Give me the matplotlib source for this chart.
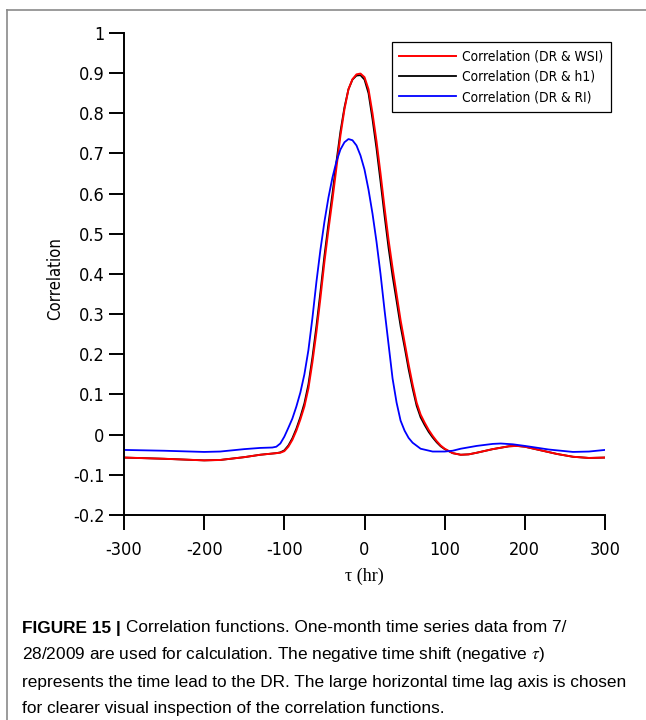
import os
import numpy as np
import matplotlib
matplotlib.use("Agg")
import matplotlib.pyplot as plt
from matplotlib.lines import Line2D
from matplotlib import font_manager as fm
from matplotlib.font_manager import FontProperties

plt.rcParams['mathtext.fontset'] = 'stix'

############################ data ############################
tau_red = [-300, -250, -200, -180, -150, -130, -115, -110, -105, -100, -95, -90, -85,
           -80, -75, -70, -65, -60, -55, -50, -45, -40, -35, -30, -25, -20, -15, -10,
           -5, 0, 5, 10, 15, 20, 25, 30, 35, 40, 45, 50, 55, 60, 65, 70, 75, 80, 85,
           90, 95, 100, 110, 120, 130, 140, 160, 180, 190, 200, 220, 240, 260, 280, 300]
corr_wsi = [-0.057, -0.060, -0.064, -0.063, -0.056, -0.050, -0.047, -0.046, -0.045,
            -0.041, -0.030, -0.013, 0.010, 0.038, 0.070, 0.115, 0.180, 0.255, 0.340,
            0.430, 0.510, 0.585, 0.665, 0.745, 0.810, 0.860, 0.885, 0.897, 0.899,
            0.890, 0.860, 0.800, 0.730, 0.650, 0.565, 0.485, 0.415, 0.350, 0.285,
            0.230, 0.175, 0.125, 0.080, 0.050, 0.030, 0.012, -0.003, -0.016, -0.027,
            -0.035, -0.046, -0.050, -0.049, -0.045, -0.036, -0.029, -0.028, -0.030,
            -0.039, -0.048, -0.055, -0.058, -0.057]
corr_h1 = [-0.057, -0.060, -0.064, -0.063, -0.056, -0.050, -0.047, -0.046, -0.044,
           -0.039, -0.027, -0.009, 0.015, 0.044, 0.078, 0.125, 0.192, 0.270, 0.355,
           0.445, 0.525, 0.600, 0.680, 0.755, 0.815, 0.860, 0.884, 0.894, 0.895,
           0.884, 0.850, 0.785, 0.712, 0.630, 0.545, 0.465, 0.395, 0.333, 0.270,
           0.218, 0.163, 0.115, 0.072, 0.043, 0.024, 0.007, -0.007, -0.019, -0.029,
           -0.036, -0.046, -0.050, -0.049, -0.045, -0.036, -0.029, -0.028, -0.030,
           -0.039, -0.048, -0.055, -0.058, -0.057]
tau_blue = [-300, -250, -200, -180, -150, -130, -115, -110, -105, -100, -95, -90, -85,
            -80, -75, -70, -65, -60, -55, -50, -45, -40, -35, -30, -25, -20, -15, -10,
            -5, 0, 5, 10, 15, 20, 25, 30, 35, 40, 45, 50, 55, 60, 70, 85, 100, 110,
            120, 140, 160, 170, 185, 200, 230, 260, 280, 300]
corr_ri = [-0.038, -0.040, -0.043, -0.042, -0.036, -0.033, -0.032, -0.030, -0.022,
           -0.005, 0.017, 0.040, 0.070, 0.105, 0.150, 0.210, 0.290, 0.380, 0.460,
           0.530, 0.590, 0.640, 0.680, 0.710, 0.728, 0.736, 0.733, 0.720, 0.695,
           0.660, 0.610, 0.550, 0.480, 0.400, 0.310, 0.225, 0.140, 0.080, 0.035,
           0.010, -0.008, -0.020, -0.035, -0.042, -0.042, -0.040, -0.035, -0.028,
           -0.023, -0.022, -0.024, -0.028, -0.037, -0.043, -0.042, -0.038]

labels = ['Correlation (DR & WSI)', 'Correlation (DR & h1)', 'Correlation (DR & RI)']
xticks = [-300, -200, -100, 0, 100, 200, 300]
yticks = [-0.2, -0.1, 0, 0.1, 0.2, 0.3, 0.4, 0.5, 0.6, 0.7, 0.8, 0.9, 1]
ytick_labels = ['-0.2', '-0.1', '0', '0.1', '0.2', '0.3', '0.4', '0.5', '0.6',
                '0.7', '0.8', '0.9', '1']

caption_head = 'FIGURE 15 | '
caption1 = 'Correlation functions. One-month time series data from 7/'
caption2 = '28/2009 are used for calculation. The negative time shift (negative $\\tau$)'
caption3 = 'represents the time lead to the DR. The large horizontal time lag axis is chosen'
caption4 = 'for clearer visual inspection of the correlation functions.'

############################ fonts ############################
def font_file(*names):
    for f in fm.fontManager.ttflist:
        if os.path.basename(f.fname) in names:
            return f.fname
    return None

def make_fp(files, family, size, weight='normal'):
    fn = font_file(*files)
    if fn:
        return FontProperties(fname=fn, size=size)
    return FontProperties(family=family, size=size, weight=weight)

fp_tick = make_fp(['DejaVuSansCondensed.ttf'], 'DejaVu Sans', 13)
fp_ylab = make_fp(['DejaVuSansCondensed.ttf'], 'DejaVu Sans', 12)
fp_leg = make_fp(['DejaVuSansCondensed.ttf'], 'DejaVu Sans', 10)
fp_cap = make_fp(['LiberationSans-Regular.ttf', 'Arimo-Regular.ttf'], 'Liberation Sans', 12)
fp_capb = make_fp(['LiberationSans-Bold.ttf', 'Arimo-Bold.ttf'], 'Liberation Sans', 12, 'bold')
fp_xlab = FontProperties(family='Liberation Serif', size=13)

############################ figure ############################
W, H = 646, 720
fig = plt.figure(figsize=(W / 100, H / 100), dpi=100)
renderer = fig.canvas.get_renderer()

def fit_size(s, fp, target_px):
    t = fig.text(0, 0, s, fontproperties=fp)
    w = t.get_window_extent(renderer).width
    t.remove()
    return fp.get_size_in_points() * target_px / w

fp_leg.set_size(fit_size(labels[0], fp_leg, 142))
cap_size = fit_size(caption3, fp_cap, 602)
fp_cap.set_size(cap_size)
fp_capb.set_size(cap_size)

ax = fig.add_axes([124 / W, 1 - 515 / H, (605 - 124) / W, (515 - 33) / H])

ax.plot(tau_red, corr_h1, color='black', lw=1.3, label=labels[1])
ax.plot(tau_red, corr_wsi, color='#ff0000', lw=1.4, label=labels[0])
ax.plot(tau_blue, corr_ri, color='#0000ff', lw=1.3, label=labels[2])

ax.set_xlim(-300, 300)
ax.set_ylim(-0.2, 1)
for s in ['top', 'right']:
    ax.spines[s].set_visible(False)
for s in ['left', 'bottom']:
    ax.spines[s].set_linewidth(1.4)

ax.set_xticks(xticks)
ax.set_xticklabels([str(v) for v in xticks])
ax.set_yticks(yticks)
ax.set_yticklabels(ytick_labels)
for lbl in ax.get_xticklabels() + ax.get_yticklabels():
    lbl.set_fontproperties(fp_tick)
ax.tick_params(axis='both', direction='out', length=11, width=1.4)
ax.tick_params(axis='x', pad=8)
ax.tick_params(axis='y', pad=3)

ax.set_ylabel('Correlation', fontproperties=fp_ylab)
ax.yaxis.set_label_coords(-0.124, 0.49)
ax.set_xlabel('τ (hr)', fontproperties=fp_xlab)
ax.xaxis.set_label_coords(0.5, -0.11)

h, l = ax.get_legend_handles_labels()
order = [1, 0, 2]
leg = fig.legend([h[i] for i in order], [l[i] for i in order],
                 loc='upper right', bbox_to_anchor=(611 / W, 1 - 42 / H),
                 fancybox=False, edgecolor='black', framealpha=1,
                 borderaxespad=0, handlelength=4.1, handletextpad=0.45,
                 labelspacing=0.45, borderpad=0.55, prop=fp_leg)
leg.get_frame().set_linewidth(0.9)

# page frame lines
fig.add_artist(Line2D([7 / W, 1], [1 - 10 / H, 1 - 10 / H], color='#8a8a8a', lw=1.2))
fig.add_artist(Line2D([7 / W, 7 / W], [0, 1 - 10 / H], color='#8a8a8a', lw=1.2))

# caption
t0 = fig.text(22 / W, 1 - 628 / H, caption_head, va='center', fontproperties=fp_capb)
ax.annotate(caption1, xy=(1, 0.5), xycoords=t0, va='center', ha='left',
            fontproperties=fp_cap)
fig.text(22 / W, 1 - 655 / H, caption2, va='center', fontproperties=fp_cap)
fig.text(22 / W, 1 - 682 / H, caption3, va='center', fontproperties=fp_cap)
fig.text(22 / W, 1 - 709 / H, caption4, va='center', fontproperties=fp_cap)

fig.savefig('out.png', dpi=100)
